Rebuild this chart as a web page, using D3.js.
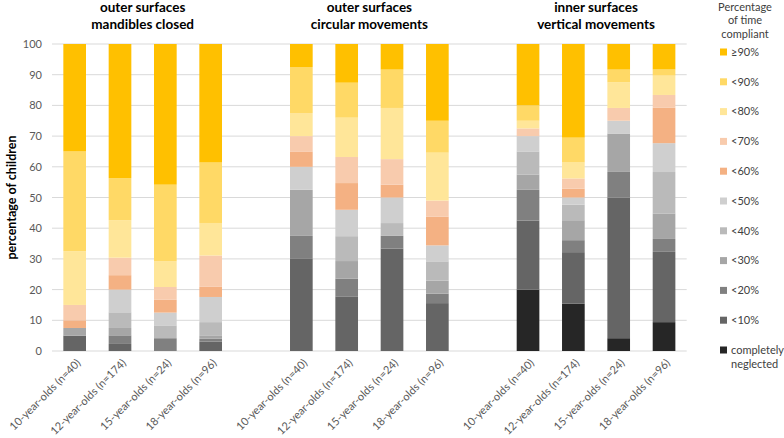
<!DOCTYPE html>
<html><head><meta charset="utf-8">
<script src="https://cdn.jsdelivr.net/npm/d3@7"></script>
<style>
body{margin:0;background:#fff;}
svg{font-family:Lato,"Open Sans",sans-serif;}
</style></head>
<body><svg id="c" width="784" height="438"></svg>
<script>
const groups = ["10-year-olds (n=40)","12-year-olds (n=174)","15-year-olds (n=24)","18-year-olds (n=96)"];
const panelTitles = [["outer surfaces","mandibles closed"],["outer surfaces","circular movements"],["inner surfaces","vertical movements"]];
const levels = ["completely neglected","<10%","<20%","<30%","<40%","<50%","<60%","<70%","<80%","<90%","≥90%"];
const levelColors = ["#262626","#656565","#808080","#a6a6a6","#bababa","#cfcfcf","#f4b183","#f8cbad","#ffe699","#ffd966","#ffc000"];
const yTicks = [0,10,20,30,40,50,60,70,80,90,100];
// values per group, from "completely neglected" up to "≥90%"
const mandiblesClosed = [
  [0,5,0,2.5,0,0,2.5,5,17.5,32.5,35],
  [0,2.3,2.8,2.4,5.1,7.4,4.7,5.7,12.2,13.7,43.7],
  [0,0,4.17,0,4.17,4.17,4.17,4.17,8.33,25,45.82],
  [0,3.1,0.9,1.1,4.3,8.2,3.3,10.2,10.6,19.7,38.6]
];
const circularMovements = [
  [0,30,7.5,15,0,7.5,5,5,7.5,15,7.5],
  [0,17.8,5.8,5.7,8.1,8.6,8.7,8.5,12.8,11.4,12.6],
  [0,33.33,4.17,0,4.17,8.33,4.17,8.33,16.67,12.5,8.33],
  [0,15.6,3.1,4.2,6.3,5.2,9.4,5.2,15.6,10.4,25]
];
const verticalMovements = [
  [20,22.5,10,5,7.5,5,0,2.5,2.5,5,20],
  [15.4,16.8,3.9,6.5,5.1,2.3,2.9,3.3,5.2,8.1,30.5],
  [4.17,45.83,8.33,12.5,0,4.17,0,4.17,8.33,4.17,8.33],
  [9.4,22.9,4.2,8.3,13.5,9.4,11.5,4.2,6.3,2,8.3]
];
const panelData = [mandiblesClosed, circularMovements, verticalMovements];

const svg = d3.select("#c");
const mLeft = 52, mRight = 686.7, mTop = 44, mBottom = 351;

// slots: 4 bars, gap, 4 bars, gap, 4 bars
const slots = [];
panelData.forEach((p,pi)=>{
  groups.forEach((g,gi)=>slots.push(pi+"|"+gi));
  if(pi<panelData.length-1) slots.push("gap"+pi);
});
const x = d3.scaleBand().domain(slots).range([mLeft,mRight]).paddingInner(0.5).paddingOuter(0.25);
const y = d3.scaleLinear().domain([0,100]).range([mBottom,mTop]);

// gridlines
svg.append("g").selectAll("line").data(yTicks).join("line")
  .attr("x1",mLeft).attr("x2",mRight)
  .attr("y1",d=>y(d)).attr("y2",d=>y(d))
  .attr("stroke","#d9d9d9").attr("stroke-width",1);

// y axis
const yAxis = d3.axisLeft(y).tickValues(yTicks).tickSize(0).tickPadding(10);
const ya = svg.append("g").attr("transform",`translate(${mLeft},0)`).call(yAxis);
ya.select(".domain").remove();
ya.selectAll("text").attr("font-size",11).attr("fill","#595959").attr("font-family","Lato,'Open Sans',sans-serif");

svg.append("text").attr("transform",`translate(16,${(mTop+mBottom)/2}) rotate(-90)`)
  .attr("text-anchor","middle").attr("font-size",12.5).attr("font-weight","bold").attr("fill","#000")
  .text("percentage of children");

// stacks
const stack = d3.stack().keys(d3.range(levels.length)).value((d,k)=>d.vals[k]);
panelData.forEach((pd,pi)=>{
  const rows = pd.map((vals,gi)=>({key:pi+"|"+gi, vals}));
  const series = stack(rows);
  const g = svg.append("g");
  series.forEach((s,li)=>{
    g.selectAll(null).data(s).join("rect")
      .attr("x",d=>x(d.data.key)).attr("width",x.bandwidth())
      .attr("y",d=>y(d[1])).attr("height",d=>Math.max(0,y(d[0])-y(d[1])))
      .attr("fill",levelColors[li]);
  });
  // title
  const cx = (x(pi+"|0") + x(pi+"|3") + x.bandwidth())/2;
  const t = svg.append("text").attr("text-anchor","middle").attr("font-size",13.5).attr("font-weight","bold").attr("fill","#000");
  panelTitles[pi].forEach((line,li)=>t.append("tspan").attr("x",cx).attr("y",12+li*16.5).text(line));
  // x labels
  groups.forEach((gname,gi)=>{
    const bx = x(pi+"|"+gi)+x.bandwidth()/2 + 4;
    svg.append("text").attr("transform",`translate(${bx},${mBottom+10}) rotate(-45)`)
      .attr("text-anchor","end").attr("font-size",11).attr("fill","#595959")
      .attr("dy","0.35em").text(gname);
  });
});

// legend
const lg = svg.append("g");
const lt = lg.append("text").attr("text-anchor","middle").attr("font-size",11).attr("fill","#404040");
["Percentage","of time","compliant"].forEach((l,i)=>lt.append("tspan").attr("x",745).attr("y",10.5+i*13.5).text(l));
const legendOrder = levels.slice().reverse();
legendOrder.forEach((lv,i)=>{
  const yy = 52 + i*29.8;
  const ci = levels.length-1-i;
  lg.append("rect").attr("x",720).attr("y",yy-3.5).attr("width",7).attr("height",7).attr("fill",levelColors[ci]);
  const tx = lg.append("text").attr("x",731).attr("y",yy).attr("dy","0.35em").attr("font-size",11).attr("fill","#404040");
  if(lv==="completely neglected"){
    tx.append("tspan").attr("x",731).text("completely");
    tx.append("tspan").attr("x",731).attr("dy","1.25em").text("neglected");
  } else tx.text(lv);
});
</script></body></html>
